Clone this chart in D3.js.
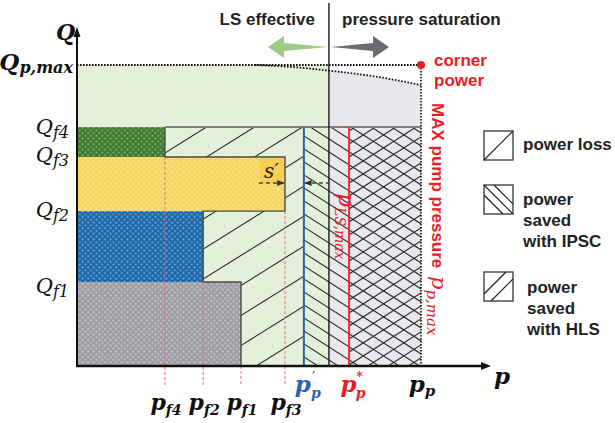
<!DOCTYPE html>
<html><head><meta charset="utf-8">
<script src="https://cdn.jsdelivr.net/npm/d3@7"></script>
<style>body{margin:0;background:#fff}svg{display:block}</style>
</head><body><svg id="c" width="615" height="423"></svg>
<script>
// ---------- data (arbitrary units) ----------
const flowNames = ["f1", "f2", "f3", "f4"];
const flowQ = [25.0, 46.1, 62.2, 71.1];      // Q_f1..Q_f4
const flowP = [39.9, 30.7, 50.6, 21.4];      // p_f1..p_f4
const blockFill = ["grey", "blue", "yellow", "green"];
const Qpmax = 89.6;
const pPrime = 55.2;   // p'_p
const pLS = 61.3;      // LS effective / pressure saturation border
const pStar = 66.2;    // p*_p
const pP = 83.7;       // p_p (max pump pressure)
const curveP = [43.3, 54.3, 61.3, 68.9, 76.2, 83.7];
const curveQ = [89.6, 88.8, 87.9, 86.8, 85.4, 83.6];
const legendLabels = [["power loss"], ["power", "saved", "with IPSC"], ["power", "saved", "with HLS"]];

// ---------- scales ----------
const x = d3.scaleLinear().domain([0, 100]).range([77, 488]);
const y = d3.scaleLinear().domain([0, 100]).range([366, 30]);
const svg = d3.select("#c");
const defs = svg.append("defs");
const SANS = "'Liberation Sans', Arial, sans-serif";
const SERIF = "'DejaVu Serif', 'Liberation Serif', serif";

function dotPattern(id, bg, dot) {
  const p = defs.append("pattern").attr("id", id).attr("width", 5.6).attr("height", 5.6)
    .attr("patternUnits", "userSpaceOnUse");
  p.append("rect").attr("width", 5.6).attr("height", 5.6).attr("fill", bg);
  p.append("circle").attr("cx", 1.4).attr("cy", 1.4).attr("r", 1.05).attr("fill", dot);
  p.append("circle").attr("cx", 4.2).attr("cy", 4.2).attr("r", 1.05).attr("fill", dot);
}
dotPattern("grey", "#9c9ca3", "#cdcdd2");
dotPattern("blue", "#1966a8", "#79aedb");
dotPattern("yellow", "#f6d560", "#fbe69a");
dotPattern("green", "#3c7a2d", "#86b86e");

const GREEN_BG = "#e4f0d9", GREY_BG = "#e9e9ed";

// ---------- background regions ----------
svg.append("rect").attr("x", x(0)).attr("y", y(Qpmax)).attr("width", x(pLS) - x(0))
  .attr("height", y(0) - y(Qpmax)).attr("fill", GREEN_BG);
const greyArea = d3.area().x(d => x(d[0])).y0(y(0)).y1(d => y(d[1])).curve(d3.curveMonotoneX);
const curvePts = curveP.map((p, i) => [p, curveQ[i]]);
const curveFn = d3.line().x(d => x(d[0])).y(d => y(d[1])).curve(d3.curveMonotoneX);
const greyPts = curvePts.filter(d => d[0] >= pLS);
svg.append("path").datum(greyPts).attr("d", greyArea).attr("fill", GREY_BG);

// ---------- blocks ----------
flowQ.forEach((q, i) => {
  const q0 = i === 0 ? 0 : flowQ[i - 1];
  svg.append("rect").attr("x", x(0)).attr("y", y(q)).attr("width", x(flowP[i]) - x(0))
    .attr("height", y(q0) - y(q)).attr("fill", "url(#" + blockFill[i] + ")");
});

// step outline points
const stepPts = [];
for (let i = flowQ.length - 1; i >= 0; i--) {
  stepPts.push([flowP[i], flowQ[i]]);
  stepPts.push([flowP[i], i === 0 ? 0 : flowQ[i - 1]]);
}

// ---------- hatches ----------
function clipRegion(id, pts) {
  defs.append("clipPath").attr("id", id).append("path")
    .attr("d", "M" + pts.map(d => x(d[0]) + "," + y(d[1])).join("L") + "Z");
}
function hatch(clipId, slope, spacing, ref) {
  const g = svg.append("g").attr("clip-path", "url(#" + clipId + ")");
  const b0 = ref[1] - slope * ref[0];
  for (let n = -60; n <= 60; n++) {
    const b = b0 + n * spacing;
    g.append("line").attr("x1", 60).attr("y1", b + slope * 60).attr("x2", 500).attr("y2", b + slope * 500)
      .attr("stroke", "#2b2b2b").attr("stroke-width", 1.1);
  }
}
clipRegion("lossClip", stepPts.concat([[pPrime, 0], [pPrime, flowQ[3]]]));
clipRegion("ipscClip", [[pPrime, flowQ[3]], [pP, flowQ[3]], [pP, 0], [pPrime, 0]]);
clipRegion("hlsClip", [[pStar, flowQ[3]], [pP, flowQ[3]], [pP, 0], [pStar, 0]]);
hatch("lossClip", -0.625, 30, [303, 246.7]);
hatch("ipscClip", 0.64, 13, [304, 292]);
hatch("hlsClip", -0.64, 13, [349, 300]);

// step outline
svg.append("path").attr("d", "M" + stepPts.map(d => x(d[0]) + "," + y(d[1])).join("L"))
  .attr("fill", "none").attr("stroke", "#4a4a4a").attr("stroke-width", 1.4);

// Q_f4 top line
svg.append("line").attr("x1", x(flowP[3])).attr("x2", x(pP)).attr("y1", y(flowQ[3])).attr("y2", y(flowQ[3]))
  .attr("stroke", "#808080").attr("stroke-width", 2);

// red dashed p_f lines
flowP.forEach((p, i) => {
  const q0 = i === 0 ? 0 : flowQ[i - 1];
  svg.append("line").attr("x1", x(p)).attr("x2", x(p)).attr("y1", y(q0)).attr("y2", y(0) + 19)
    .attr("stroke", "#ee6a6a").attr("stroke-width", 1).attr("stroke-dasharray", "3,2");
});

// vertical marker lines
svg.append("line").attr("x1", x(pPrime)).attr("x2", x(pPrime)).attr("y1", y(flowQ[3])).attr("y2", y(0))
  .attr("stroke", "#2e5fb5").attr("stroke-width", 2);
svg.append("line").attr("x1", x(pStar)).attr("x2", x(pStar)).attr("y1", y(flowQ[3])).attr("y2", y(0))
  .attr("stroke", "#ec2a32").attr("stroke-width", 2);
svg.append("line").attr("x1", x(pLS)).attr("x2", x(pLS)).attr("y1", 3).attr("y2", y(0))
  .attr("stroke", "#1a1a1a").attr("stroke-width", 1.4);

// dotted limits
svg.append("line").attr("x1", x(0)).attr("x2", x(pP)).attr("y1", y(Qpmax)).attr("y2", y(Qpmax))
  .attr("stroke", "#111").attr("stroke-width", 2).attr("stroke-dasharray", "1.6,1.4");
svg.append("path").datum(curvePts).attr("d", curveFn).attr("fill", "none")
  .attr("stroke", "#111").attr("stroke-width", 1.8).attr("stroke-dasharray", "1.6,1.6");
svg.append("line").attr("x1", x(pP)).attr("x2", x(pP)).attr("y1", y(Qpmax)).attr("y2", y(0))
  .attr("stroke", "#111").attr("stroke-width", 1.6).attr("stroke-dasharray", "1.6,1.4");
svg.append("circle").attr("cx", x(pP)).attr("cy", y(Qpmax)).attr("r", 4).attr("fill", "#ec1c24");

// s' annotation
const sy = y(flowQ[2]) + 26;
svg.append("rect").attr("x", x(flowP[2]) - 25).attr("y", y(flowQ[2]) + 1).attr("width", 23).attr("height", 25)
  .attr("fill", "#f8cf52");
svg.append("text").attr("x", x(flowP[2]) - 21).attr("y", y(flowQ[2]) + 21).attr("font-family", SERIF)
  .attr("font-style", "italic").attr("font-size", 20).attr("fill", "#222").text("s′");
defs.append("marker").attr("id", "ah").attr("viewBox", "0 0 10 10").attr("refX", 9).attr("refY", 5)
  .attr("markerWidth", 5).attr("markerHeight", 5).attr("orient", "auto-start-reverse")
  .append("path").attr("d", "M0,1L10,5L0,9Z").attr("fill", "#333");
svg.append("line").attr("x1", x(flowP[2]) - 26).attr("x2", x(flowP[2]) - 1).attr("y1", sy).attr("y2", sy)
  .attr("stroke", "#444").attr("stroke-width", 1.5).attr("stroke-dasharray", "4,3").attr("marker-end", "url(#ah)");
svg.append("line").attr("x1", x(pLS) + 1).attr("x2", x(pPrime) + 1).attr("y1", sy).attr("y2", sy)
  .attr("stroke", "#444").attr("stroke-width", 1.5).attr("stroke-dasharray", "4,3").attr("marker-end", "url(#ah)");

// ---------- axes ----------
svg.append("line").attr("x1", x(0)).attr("x2", x(0)).attr("y1", y(0) + 1).attr("y2", 32)
  .attr("stroke", "#111").attr("stroke-width", 2);
svg.append("path").attr("d", `M${x(0)},27L${x(0) - 3.5},37L${x(0) + 3.5},37Z`).attr("fill", "#111");
svg.append("line").attr("x1", x(0) - 1).attr("x2", 484).attr("y1", y(0)).attr("y2", y(0))
  .attr("stroke", "#111").attr("stroke-width", 2.6);
svg.append("path").attr("d", `M491,${y(0)}L481,${y(0) - 4}L481,${y(0) + 4}Z`).attr("fill", "#111");

// ---------- top arrows & labels ----------
const ay = 47;
svg.append("path").attr("d", `M268,${ay}L284,${ay - 11}L284,${ay - 4}L328,${ay}L284,${ay + 4}L284,${ay + 11}Z`)
  .attr("fill", "#9ccb88");
svg.append("path").attr("d", `M389,${ay}L373,${ay - 11}L373,${ay - 4}L331,${ay}L373,${ay + 4}L373,${ay + 11}Z`)
  .attr("fill", "#6b6c70");
svg.append("text").attr("x", 315).attr("y", 25).attr("text-anchor", "end").attr("font-family", SANS)
  .attr("font-weight", "bold").attr("font-size", 17).attr("fill", "#222").text("LS effective");
svg.append("text").attr("x", 342).attr("y", 25).attr("font-family", SANS)
  .attr("font-weight", "bold").attr("font-size", 17).attr("fill", "#222").text("pressure saturation");
svg.append("text").attr("x", 434).attr("y", 66).attr("font-family", SANS).attr("font-weight", "bold")
  .attr("font-size", 17).attr("fill", "#ec1c24").text("corner");
svg.append("text").attr("x", 434).attr("y", 86).attr("font-family", SANS).attr("font-weight", "bold")
  .attr("font-size", 17).attr("fill", "#ec1c24").text("power");

// ---------- math labels ----------
function math(g, px, py, main, sub, o) {
  o = o || {};
  const t = g.append("text").attr("x", px).attr("y", py).attr("font-family", SERIF)
    .attr("font-style", "italic").attr("font-weight", o.bold ? "bold" : "normal")
    .attr("fill", o.color || "#111").attr("text-anchor", o.anchor || "start");
  t.append("tspan").attr("font-size", o.size || 20).text(main);
  if (o.sup) {
    t.append("tspan").attr("font-size", 12).attr("dy", -11).attr("dx", o.supDx || 0).text(o.sup);
    t.append("tspan").attr("font-size", o.subSize || 14).attr("dy", 17).attr("dx", o.supBack || -5).text(sub);
  } else if (sub) {
    t.append("tspan").attr("font-size", o.subSize || 14).attr("dy", o.subDy || 5).text(sub);
  }
  return t;
}
const Qlab = [293, 217, 162, 134];
flowNames.forEach((n, i) => math(svg, 69, Qlab[i], "Q", n, { anchor: "end", size: 21, subSize: 16, subDy: 4 }));
math(svg, 73, 70, "Q", "p,max", { anchor: "end", bold: true, size: 23, subSize: 16, subDy: 3 });
math(svg, 56, 40, "Q", null, { bold: true, size: 22 });
math(svg, 494, 384, "p", null, { bold: true, size: 23 });
flowNames.forEach((n, i) => math(svg, x(flowP[i]) + 1, 410, "p", n, { anchor: "middle", bold: true, size: 22, subSize: 14, subDy: 5 }));
math(svg, x(pPrime) + 4, 392, "p", "p", { anchor: "middle", bold: true, size: 23, subSize: 14, color: "#2e5fb5", sup: "′", supDx: 1, supBack: -4 });
math(svg, x(pStar) + 4, 392, "p", "p", { anchor: "middle", bold: true, size: 23, subSize: 14, color: "#ec1c24", sup: "*", supDx: 0, supBack: -7 });
math(svg, x(pP) + 1, 392, "p", "p", { anchor: "middle", bold: true, size: 23, subSize: 15, subDy: 4 });

// rotated labels
const g1 = svg.append("g").attr("transform", `translate(339,193) rotate(90)`);
math(g1, 0, 0, "p", "LS,max", { color: "#ec1c24", size: 22, subSize: 14, subDy: 4 });
const g2 = svg.append("g").attr("transform", `translate(432,103) rotate(90)`);
const t2 = g2.append("text").attr("x", 0).attr("y", 0).attr("fill", "#ec1c24");
t2.append("tspan").attr("font-family", SANS).attr("font-weight", "bold").attr("font-size", 17).text("MAX pump pressure ");
t2.append("tspan").attr("font-family", SERIF).attr("font-style", "italic").attr("font-size", 21).attr("dx", 3).text("p");
t2.append("tspan").attr("font-family", SERIF).attr("font-style", "italic").attr("font-size", 15).attr("dy", 5).text("p,max");

// ---------- legend ----------
const boxY = [131, 185, 272];
const textX = [523, 523, 527];
const textY = [150, 205, 293];
boxY.forEach((by, i) => {
  const g = svg.append("g").attr("transform", `translate(484,${by})`);
  g.append("rect").attr("width", 29).attr("height", 29).attr("fill", "#fff").attr("stroke", "#444").attr("stroke-width", 1.4);
  const L = (a, b, c, d) => g.append("line").attr("x1", a).attr("y1", b).attr("x2", c).attr("y2", d)
    .attr("stroke", "#222").attr("stroke-width", 1.2);
  if (i === 0) L(0, 29, 29, 0);
  if (i === 1) { L(0, 0, 29, 29); L(10, 0, 29, 19); L(0, 10, 19, 29); }
  if (i === 2) { L(0, 22, 22, 0); L(7, 29, 29, 7); }
  legendLabels[i].forEach((s, j) => svg.append("text").attr("x", textX[i]).attr("y", textY[i] + j * 21)
    .attr("font-family", SANS).attr("font-weight", "bold").attr("font-size", 17).attr("fill", "#222").text(s));
});
</script></body></html>
